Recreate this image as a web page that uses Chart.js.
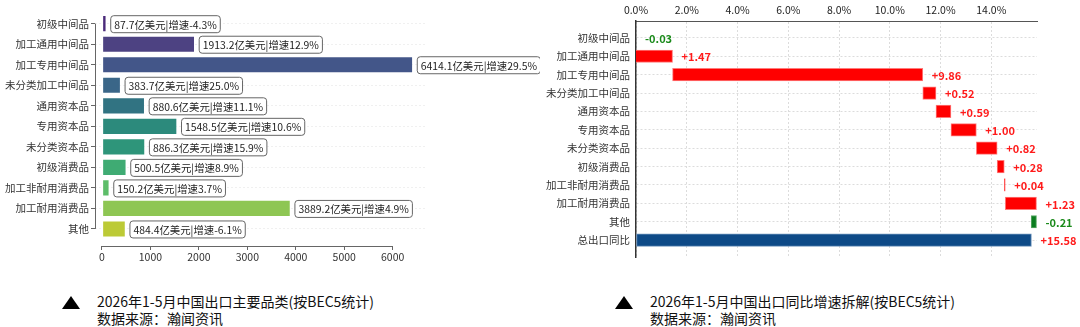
<!DOCTYPE html>
<html>
<head>
<meta charset="utf-8">
<script src="https://cdn.jsdelivr.net/npm/chart.js@4.4.1/dist/chart.umd.min.js"></script>
<style>
body{margin:0;background:#fff;width:1080px;height:327px;overflow:hidden;position:relative;
  font-family:'Noto Sans CJK SC','Noto Sans',sans-serif;}
canvas{position:absolute;top:0}
#leftChart{left:0}
#rightChart{left:540px}
.cap{position:absolute;font-size:14px;line-height:17px;color:#111;white-space:nowrap}
.tri{position:absolute;width:0;height:0;border-left:9px solid transparent;border-right:9px solid transparent;border-bottom:13px solid #000}
</style>
</head>
<body>
<canvas id="leftChart" width="540" height="270"></canvas>
<canvas id="rightChart" width="540" height="270"></canvas>

<div class="tri" style="left:62px;top:296px"></div>
<div class="cap" style="left:97px;top:293px">2026年1-5月中国出口主要品类(按BEC5统计)<br>数据来源：瀚闻资讯</div>
<div class="tri" style="left:615px;top:296px"></div>
<div class="cap" style="left:650px;top:293px">2026年1-5月中国出口同比增速拆解(按BEC5统计)<br>数据来源：瀚闻资讯</div>

<script>
// left: export value by category (亿美元) and growth (%)
const categories = ['初级中间品','加工通用中间品','加工专用中间品','未分类加工中间品','通用资本品','专用资本品','未分类资本品','初级消费品','加工非耐用消费品','加工耐用消费品','其他'];
const exportValues = [87.7, 1913.2, 6414.1, 383.7, 880.6, 1548.5, 886.3, 500.5, 150.2, 3889.2, 484.4];
const growthRates = [-4.3, 12.9, 29.5, 25.0, 11.1, 10.6, 15.9, 8.9, 3.7, 4.9, -6.1];
const valueTicks = [0, 1000, 2000, 3000, 4000, 5000, 6000];
const barColors = ['#4a2a7a','#4d4282','#435689','#3a6688','#317382','#2c8a7c','#2e957a','#3fab73','#5dbd69','#8ec653','#bcca36'];

// right: contribution to growth (percentage points)
const wfCategories = ['初级中间品','加工通用中间品','加工专用中间品','未分类加工中间品','通用资本品','专用资本品','未分类资本品','初级消费品','加工非耐用消费品','加工耐用消费品','其他','总出口同比'];
const contributions = [-0.03, 1.47, 9.86, 0.52, 0.59, 1.00, 0.82, 0.28, 0.04, 1.23, -0.21];
const totalGrowth = 15.58;
const pctTicks = [0, 2, 4, 6, 8, 10, 12, 14];

const FONT = "'Noto Sans CJK SC','Noto Sans',sans-serif";
const tickFont = {family: FONT, size: 10.5};

// ---------- left chart ----------
const leftDecor = {
    id: 'leftDecor',
    afterDatasetsDraw(chart){
        const ctx = chart.ctx;
        const xs = chart.scales.x, ys = chart.scales.y;
        const area = chart.chartArea;
        ctx.save();
        // trimmed spines
        ctx.strokeStyle = '#666';
        ctx.lineWidth = 1;
        ctx.beginPath();
        ctx.moveTo(area.left + 0.5, ys.getPixelForValue(0));
        ctx.lineTo(area.left + 0.5, ys.getPixelForValue(categories.length - 1));
        ctx.moveTo(xs.getPixelForValue(0), area.bottom + 0.5);
        ctx.lineTo(xs.getPixelForValue(6000), area.bottom + 0.5);
        ctx.stroke();

        // value boxes
        ctx.font = '10.4px ' + FONT;
        ctx.textBaseline = 'middle';
        const meta = chart.getDatasetMeta(0);
        meta.data.forEach((bar, i) => {
            const txt = exportValues[i].toFixed(1) + '亿美元|增速' + growthRates[i].toFixed(1) + '%';
            const w = ctx.measureText(txt).width + 7;
            const h = 17;
            const x = bar.x + 4, y = bar.y - h / 2;
            ctx.beginPath();
            ctx.roundRect(x + 0.5, y + 0.5, w, h, 3);
            ctx.fillStyle = '#fff';
            ctx.fill();
            ctx.strokeStyle = '#666';
            ctx.stroke();
            ctx.fillStyle = '#222';
            ctx.fillText(txt, x + 4, bar.y + 1);
        });
        ctx.restore();
    }
};

new Chart(document.getElementById('leftChart'), {
    type: 'bar',
    data: {
        datasets: [{
            data: exportValues.map((v, i) => ({x: v, y: i})),
            backgroundColor: barColors,
            borderColor: 'rgba(255,255,255,0.35)',
            borderWidth: 1,
            borderSkipped: false,
            barThickness: 16.5
        }]
    },
    options: {
        indexAxis: 'y',
        responsive: false,
        animation: false,
        layout: {padding: {top: 5, right: 113, bottom: 0, left: 0}},
        plugins: {legend: {display: false}, tooltip: {enabled: false}},
        scales: {
            x: {
                type: 'linear',
                position: 'bottom',
                min: -144,
                max: 6708,
                afterBuildTicks: s => { s.ticks = valueTicks.map(v => ({value: v})); },
                afterFit: s => { s.height = 24; },
                grid: {drawOnChartArea: false, tickLength: 4, tickColor: '#666'},
                border: {display: false},
                ticks: {font: tickFont, color: '#333', padding: 1, maxRotation: 0,
                        callback: v => String(v)}
            },
            y: {
                type: 'linear',
                offset: false,
                min: -0.75,
                max: 10.83,
                reverse: true,
                afterBuildTicks: s => { s.ticks = categories.map((c, i) => ({value: i})); },
                afterFit: s => { s.width = 95; },
                grid: {offset: false, color: '#f0f0f0', tickLength: 4, tickColor: '#666'},
                border: {display: false, dash: [2, 2]},
                ticks: {font: tickFont, color: '#333', padding: 2, autoSkip: false,
                        callback: v => categories[v]}
            }
        }
    },
    plugins: [leftDecor]
});

// ---------- right chart (waterfall) ----------
const wfRows = [];
let running = 0;
contributions.forEach(c => {
    wfRows.push({start: running, end: running + c, value: c});
    running += c;
});
wfRows.push({start: 0, end: totalGrowth, value: totalGrowth, total: true});

const wfColors = wfRows.map(r => r.total ? '#0e4a87' : (r.value < 0 ? '#0b7d1f' : '#ff0000'));
const wfEdges = wfRows.map(r => r.total ? '#6b92bb' : (r.value < 0 ? '#5aa865' : '#ff7a7a'));

const rightLabels = {
    id: 'rightLabels',
    afterDatasetsDraw(chart){
        const ctx = chart.ctx;
        const xs = chart.scales.x, ys = chart.scales.y;
        ctx.save();
        ctx.font = 'bold 11px ' + FONT;
        ctx.textBaseline = 'middle';
        wfRows.forEach((r, i) => {
            const px = xs.getPixelForValue(Math.max(r.start, r.end)) + 9;
            const py = ys.getPixelForValue(i);
            ctx.fillStyle = r.value < 0 ? '#1a8a1a' : '#ff1a1a';
            ctx.fillText((r.value >= 0 ? '+' : '') + r.value.toFixed(2), px, py + 1);
        });
        ctx.restore();
    }
};

new Chart(document.getElementById('rightChart'), {
    type: 'bar',
    data: {
        datasets: [{
            data: wfRows.map((r, i) => ({x: [r.start, r.end], y: i})),
            backgroundColor: wfColors,
            borderColor: wfEdges,
            borderWidth: 1,
            borderSkipped: false,
            barThickness: 12.5
        }]
    },
    options: {
        indexAxis: 'y',
        responsive: false,
        animation: false,
        layout: {padding: {top: 0, right: 43, bottom: 13, left: 0}},
        plugins: {legend: {display: false}, tooltip: {enabled: false}},
        scales: {
            x: {
                type: 'linear',
                position: 'top',
                min: 0,
                max: 15.8,
                afterBuildTicks: s => { s.ticks = pctTicks.map(v => ({value: v})); },
                afterFit: s => { s.height = 21; },
                grid: {color: '#dcdcdc', drawTicks: false},
                border: {display: true, color: '#555', width: 1, dash: [2, 2]},
                ticks: {font: tickFont, color: '#222', padding: 5, maxRotation: 0,
                        callback: v => v.toFixed(1) + '%'}
            },
            y: {
                type: 'linear',
                offset: false,
                min: -0.92,
                max: 11.92,
                reverse: true,
                afterBuildTicks: s => { s.ticks = wfCategories.map((c, i) => ({value: i})); },
                afterFit: s => { s.width = 96; },
                grid: {offset: false, color: '#dcdcdc', drawTicks: false},
                border: {display: true, color: '#333', width: 1.5, dash: [2, 2]},
                ticks: {font: tickFont, color: '#333', padding: 6, autoSkip: false,
                        callback: v => wfCategories[v]}
            }
        }
    },
    plugins: [rightLabels]
});
</script>
</body>
</html>
